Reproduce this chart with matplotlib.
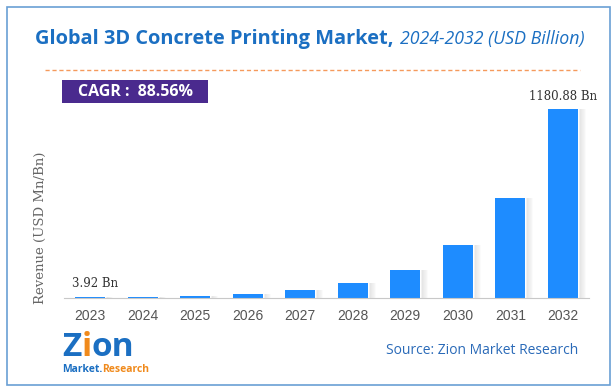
import matplotlib.pyplot as plt
from matplotlib.patches import Rectangle

years = ["2023", "2024", "2025", "2026", "2027", "2028", "2029", "2030", "2031", "2032"]
revenue = [3.92, 7.4, 13.9, 26.3, 49.6, 93.5, 176.3, 332.5, 627.0, 1180.88]
first_label = "3.92 Bn"
last_label = "1180.88 Bn"
cagr_text = "CAGR :  88.56%"

W, H = 616, 392
fig = plt.figure(figsize=(W / 100, H / 100), dpi=100)
fig.patch.set_facecolor("white")
renderer = fig.canvas.get_renderer()


def put_after(prev, text, gap=0, **kw):
    # place a text right after the previous one (pixel gap)
    bb = prev.get_window_extent(renderer)
    return fig.text((bb.x1 + gap) / W, prev.get_position()[1], text, **kw)


# outer frame
fig.patches.append(Rectangle((7 / W, 1 - 385 / H), 603 / W, 378 / H, transform=fig.transFigure,
                             fill=False, edgecolor="#6a9fd4", linewidth=1.2))

# title, two parts
t1 = fig.text(35 / W, 1 - 39 / H, "Global 3D Concrete Printing Market,", fontsize=14.4, fontweight="bold",
              color="#1b6fc2", family="Open Sans", va="center", ha="left")
put_after(t1, "2024-2032 (USD Billion)", gap=7, fontsize=12.8, style="italic",
          color="#1b6fc2", family="Open Sans", va="center", ha="left")

# dashed orange line under title
fig.add_artist(plt.Line2D([45 / W, 580 / W], [1 - 70 / H, 1 - 70 / H], transform=fig.transFigure,
                          color="#f59a5c", linewidth=1, linestyle=(0, (3, 2))))

# CAGR box
fig.patches.append(Rectangle((62 / W, 1 - 103 / H), 146 / W, 23 / H, transform=fig.transFigure,
                             facecolor="#4a2a8e", edgecolor="none"))
fig.text(135 / W, 1 - 92 / H, cagr_text, fontsize=11.5, fontweight="bold", color="white",
         family="Open Sans", ha="center", va="center")

# chart axes
ax_left, ax_right, ax_top, ax_bottom = 64, 589, 100, 298
ax = fig.add_axes([ax_left / W, 1 - ax_bottom / H, (ax_right - ax_left) / W, (ax_bottom - ax_top) / H])
ymax = revenue[-1] * (ax_bottom - ax_top) / (ax_bottom - 109)
x = list(range(len(years)))

# soft shadow to the right of each bar
for k in range(6):
    ax.bar([i + 0.3 + k * 0.02 for i in x], revenue, width=0.04, color="#777777",
           alpha=0.10 - k * 0.015, align="edge", zorder=1, linewidth=0)
ax.bar(x, revenue, width=0.58, color="#1e8cff", zorder=2, linewidth=0)

ax.set_xlim(-0.5, len(years) - 0.5)
ax.set_ylim(0, ymax)
for s in ["top", "right", "left"]:
    ax.spines[s].set_visible(False)
ax.spines["bottom"].set_color("#c8c8c8")
ax.set_yticks([])
ax.set_xticks(x)
ax.set_xticklabels(years, fontsize=10, color="#555555", family="Liberation Sans")
ax.tick_params(axis="x", length=0, pad=8)

ax.text(-0.35, revenue[0] + ymax * 0.035, first_label, fontsize=8.5, family="DejaVu Serif",
        color="#333333", ha="left", va="bottom")
ax.text(x[-1], revenue[-1] + ymax * 0.03, last_label, fontsize=8.5, family="DejaVu Serif",
        color="#333333", ha="center", va="bottom")

fig.text(40 / W, 1 - 228 / H, "Revenue (USD Mn/Bn)", rotation=90, fontsize=9.5, family="DejaVu Serif",
         color="#666666", ha="center", va="center")

# logo
z = fig.text(62 / W, 1 - 347 / H, "Z", fontsize=24, fontweight="bold", color="#1b6fc2",
             family="Open Sans", ha="left", va="center")
i_ = put_after(z, "i", gap=0, fontsize=24, fontweight="bold", color="#f08a1c",
               family="Open Sans", ha="left", va="center")
put_after(i_, "on", gap=0, fontsize=24, fontweight="bold", color="#1b6fc2",
          family="Open Sans", ha="left", va="center")
m = fig.text(62 / W, 1 - 369 / H, "Market.", fontsize=7.5, fontweight="bold", color="#1b6fc2",
             family="Open Sans", ha="left", va="center")
put_after(m, "Research", gap=0, fontsize=7.5, fontweight="bold", color="#f08a1c",
          family="Open Sans", ha="left", va="center")

fig.text(578 / W, 1 - 350 / H, "Source: Zion Market Research", fontsize=10, color="#2a6ab8",
         family="Open Sans", ha="right", va="center")

fig.savefig("out.png", dpi=100, facecolor="white")
